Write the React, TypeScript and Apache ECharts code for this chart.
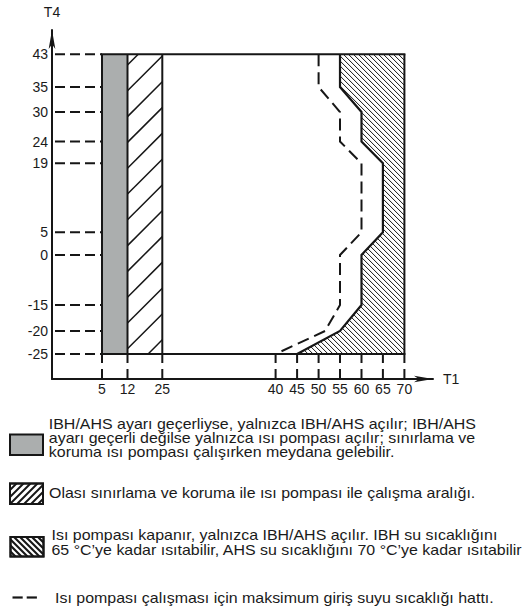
import React, { useEffect, useRef } from "react";
import * as echarts from "echarts";

// ---------------- data ----------------
const T1_TICKS = [5, 12, 25, 40, 45, 50, 55, 60, 65, 70];
const T4_TICKS = [43, 35, 30, 24, 19, 5, 0, -15, -20, -25];
const IBH_BAND_T1 = [5, 12];
const LIMITED_BAND_T1 = [12, 25];
const T1_RANGE = [5, 70];
const T4_RANGE = [-25, 43];
const BOUNDARY_T4 = [43, 35, 30, 24, 19, 5, 0, -15, -20, -25];
const HP_OFF_T1 = [55, 55, 60, 60, 65, 65, 60, 60, 55, 45];
const MAX_INLET_T1 = [50, 50, 55, 55, 60, 60, 55, 55, 51.5, 40];
const AXIS_NAMES = ["T1", "T4"];
const LEGEND_TEXTS = [
  [
    "IBH/AHS ayarı geçerliyse, yalnızca IBH/AHS açılır; IBH/AHS",
    "ayarı geçerli değilse yalnızca ısı pompası açılır; sınırlama ve",
    "koruma ısı pompası çalışırken meydana gelebilir.",
  ],
  ["Olası sınırlama ve koruma ile ısı pompası ile çalışma aralığı."],
  [
    "Isı pompası kapanır, yalnızca IBH/AHS açılır. IBH su sıcaklığını",
    "65 °C’ye kadar ısıtabilir, AHS su sıcaklığını 70 °C’ye kadar ısıtabilir",
  ],
  ["Isı pompası çalışması için maksimum giriş suyu sıcaklığı hattı."],
];

// ---------------- layout (schematic, non-linear axes) ----------------
const T1_TICK_OFFSETS = [50, 75.5, 110.3, 223.6, 245.1, 266.6, 288, 309.5, 330.9, 352.4];
const T4_TICK_OFFSETS = [324.7, 292, 267, 237.5, 215.7, 146.7, 124, 74, 48, 25];
const FONT = '"Liberation Sans", Arial, Helvetica, sans-serif';
const INK = "#161616";
const GRAY = "#abaeae";
const LEGEND_SCALE_X = 1.14;

type Pt = [number, number];

function interp(v: number, keys: number[], vals: number[]): number {
  const pairs = keys.map((k, i) => [k, vals[i]]).sort((a, b) => a[0] - b[0]);
  for (let i = 0; i < pairs.length - 1; i++) {
    const [k0, v0] = pairs[i];
    const [k1, v1] = pairs[i + 1];
    if (v >= k0 && v <= k1) return v0 + ((v - k0) / (k1 - k0)) * (v1 - v0);
  }
  return v < pairs[0][0] ? pairs[0][1] : pairs[pairs.length - 1][1];
}
const t1Pos = (t: number) => interp(t, T1_TICKS, T1_TICK_OFFSETS);
const t4Pos = (t: number) => interp(t, T4_TICKS, T4_TICK_OFFSETS);

function labelFor(v: number, offs: number[], labels: number[]): string {
  let best = 0;
  offs.forEach((o, i) => {
    if (Math.abs(o - v) < Math.abs(offs[best] - v)) best = i;
  });
  return String(labels[best]);
}

// hatch lines clipped to a polygon; dir 1 => "/", dir -1 => "\"
function hatch(poly: Pt[], dir: number, spacing: number, phase: number): [Pt, Pt][] {
  const f = (p: Pt) => (dir === 1 ? p[0] + p[1] : p[1] - p[0]);
  const vals = poly.map(f);
  const min = Math.min(...vals);
  const max = Math.max(...vals);
  const segs: [Pt, Pt][] = [];
  let c = phase + Math.ceil((min - phase) / spacing) * spacing;
  for (; c <= max; c += spacing) {
    const xs: number[] = [];
    for (let i = 0; i < poly.length; i++) {
      const a = poly[i];
      const b = poly[(i + 1) % poly.length];
      const fa = f(a) - c;
      const fb = f(b) - c;
      if (fa > 0 !== fb > 0) {
        const t = fa / (fa - fb);
        xs.push(a[0] + t * (b[0] - a[0]));
      }
    }
    xs.sort((p, q) => p - q);
    for (let k = 0; k + 1 < xs.length; k += 2) {
      const x1 = xs[k];
      const x2 = xs[k + 1];
      const y1 = dir === 1 ? c - x1 : c + x1;
      const y2 = dir === 1 ? c - x2 : c + x2;
      segs.push([
        [x1, y1],
        [x2, y2],
      ]);
    }
  }
  return segs;
}

function hatchLines(segs: [Pt, Pt][], width: number, color: string) {
  return segs.map((s) => ({
    type: "line",
    shape: { x1: s[0][0], y1: s[0][1], x2: s[1][0], y2: s[1][1] },
    style: { stroke: color, lineWidth: width },
  }));
}

function renderDiagram(params: any, api: any) {
  const P = (t1: number, t4: number): Pt => api.coord([t1Pos(t1), t4Pos(t4)]);
  const origin: Pt = api.coord([0, 0]);
  const children: any[] = [];
  const top = T4_RANGE[1];
  const bottom = T4_RANGE[0];

  // guide dashes from the axes
  T4_TICKS.forEach((t4) => {
    const p = P(T1_RANGE[0], t4);
    children.push({
      type: "line",
      shape: { x1: origin[0] + 3, y1: p[1], x2: p[0], y2: p[1] },
      style: { stroke: INK, lineWidth: 2, lineDash: [10, 5] },
    });
  });
  T1_TICKS.forEach((t1) => {
    const p = P(t1, bottom);
    children.push({
      type: "line",
      shape: { x1: p[0], y1: p[1], x2: p[0], y2: origin[1] },
      style: { stroke: INK, lineWidth: 2, lineDash: [9, 6] },
    });
  });

  // IBH/AHS only band
  const g0 = P(IBH_BAND_T1[0], top);
  const g1 = P(IBH_BAND_T1[1], bottom);
  children.push({
    type: "rect",
    shape: { x: g0[0], y: g0[1], width: g1[0] - g0[0], height: g1[1] - g0[1] },
    style: { fill: GRAY },
  });

  // limited operation band
  const h0 = P(LIMITED_BAND_T1[0], top);
  const h1 = P(LIMITED_BAND_T1[1], bottom);
  const band: Pt[] = [
    [h0[0], h0[1]],
    [h1[0], h0[1]],
    [h1[0], h1[1]],
    [h0[0], h1[1]],
  ];
  children.push(...hatchLines(hatch(band, 1, 25.8, h0[0] + h0[1] + 10.7), 1.5, INK));

  // heat pump off region
  const offPoly: Pt[] = BOUNDARY_T4.map((t4, i) => P(HP_OFF_T1[i], t4));
  offPoly.push(P(T1_RANGE[1], bottom));
  offPoly.push(P(T1_RANGE[1], top));
  const tr = P(T1_RANGE[1], top);
  children.push(...hatchLines(hatch(offPoly, -1, 5, tr[1] - tr[0] + 1), 1, INK));

  // frame lines
  const vline = (t1: number) => {
    const a = P(t1, top);
    const b = P(t1, bottom);
    return {
      type: "line",
      shape: { x1: a[0], y1: a[1], x2: b[0], y2: b[1] },
      style: { stroke: INK, lineWidth: 2 },
    };
  };
  children.push(vline(IBH_BAND_T1[0]), vline(IBH_BAND_T1[1]), vline(LIMITED_BAND_T1[1]), vline(T1_RANGE[1]));
  [top, bottom].forEach((t4) => {
    const a = P(T1_RANGE[0], t4);
    const b = P(T1_RANGE[1], t4);
    children.push({
      type: "line",
      shape: { x1: a[0] - 1, y1: a[1], x2: b[0] + 1, y2: b[1] },
      style: { stroke: INK, lineWidth: 2 },
    });
  });

  // boundary lines
  children.push({
    type: "polyline",
    shape: { points: BOUNDARY_T4.map((t4, i) => P(HP_OFF_T1[i], t4)) },
    style: { stroke: INK, lineWidth: 2.2, fill: "none" },
  });
  children.push({
    type: "polyline",
    shape: { points: BOUNDARY_T4.map((t4, i) => P(MAX_INLET_T1[i], t4)) },
    style: { stroke: INK, lineWidth: 2, fill: "none", lineDash: [12, 6] },
  });

  return { type: "group", children };
}

function buildLegend() {
  const els: any[] = [];
  const textStyle = (text: string) => ({
    text,
    fontSize: 14,
    fontFamily: FONT,
    fill: "#1a1a1a",
    align: "left",
    verticalAlign: "middle",
  });
  const addText = (x: number, ys: number[], lines: string[]) => {
    lines.forEach((line, i) => {
      els.push({ type: "text", x, y: ys[i], scaleX: LEGEND_SCALE_X, style: textStyle(line) });
    });
  };
  const box = (x: number, y: number, w: number, h: number, fill: string) => ({
    type: "rect",
    shape: { x, y, width: w, height: h },
    style: { fill, stroke: INK, lineWidth: 2 },
  });
  const rectPoly = (x: number, y: number, w: number, h: number): Pt[] => [
    [x, y],
    [x + w, y],
    [x + w, y + h],
    [x, y + h],
  ];

  // 1: gray
  els.push(box(10, 434.5, 33, 20.5, GRAY));
  addText(48.8, [424, 438, 451.8], LEGEND_TEXTS[0]);
  // 2: "/" hatch
  els.push(box(10, 483.5, 33, 20.5, "#fff"));
  els.push(...hatchLines(hatch(rectPoly(10, 483.5, 33, 20.5), 1, 7, 3), 2, INK));
  els.push(box(10, 483.5, 33, 20.5, "none"));
  addText(49, [492.5], LEGEND_TEXTS[1]);
  // 3: "\" hatch
  els.push(box(10.5, 537, 33, 19.5, "#fff"));
  els.push(...hatchLines(hatch(rectPoly(10.5, 537, 33, 19.5), -1, 6, 1), 2.2, INK));
  els.push(box(10.5, 537, 33, 19.5, "none"));
  addText(51.5, [535, 549.5], LEGEND_TEXTS[2]);
  // 4: dashed line
  els.push({ type: "line", shape: { x1: 12.5, y1: 597.5, x2: 22.7, y2: 597.5 }, style: { stroke: INK, lineWidth: 2.2 } });
  els.push({ type: "line", shape: { x1: 26.7, y1: 597.5, x2: 36.9, y2: 597.5 }, style: { stroke: INK, lineWidth: 2.2 } });
  addText(55, [597.5], LEGEND_TEXTS[3]);
  return els;
}

export default function App() {
  const ref = useRef<HTMLDivElement>(null);
  useEffect(() => {
    if (!ref.current) return;
    const chart = echarts.init(ref.current, null, { renderer: "svg" });
    const labelStyle = { color: "#1a1a1a", fontSize: 14, fontFamily: FONT };
    chart.setOption({
      animation: false,
      backgroundColor: "#ffffff",
      grid: { left: 52, top: 30, width: 381, height: 349, containLabel: false, outerBoundsMode: "none" },
      xAxis: {
        type: "value",
        min: 0,
        max: 381,
        name: AXIS_NAMES[0],
        nameLocation: "end",
        nameGap: 10,
        nameTextStyle: { ...labelStyle, verticalAlign: "middle", padding: [0, 0, 3, 0] },
        axisLine: {
          show: true,
          onZero: false,
          symbol: ["none", "arrow"],
          symbolSize: [5, 19],
          lineStyle: { color: INK, width: 2 },
        },
        axisTick: { show: false },
        splitLine: { show: false },
        axisLabel: {
          ...labelStyle,
          margin: 3,
          customValues: T1_TICK_OFFSETS,
          formatter: (v: number) => labelFor(v, T1_TICK_OFFSETS, T1_TICKS),
        },
      },
      yAxis: {
        type: "value",
        min: 0,
        max: 349,
        name: AXIS_NAMES[1],
        nameLocation: "end",
        nameGap: 11,
        nameTextStyle: { ...labelStyle, align: "center" },
        axisLine: {
          show: true,
          onZero: false,
          symbol: ["none", "arrow"],
          symbolSize: [5, 19],
          lineStyle: { color: INK, width: 2 },
        },
        axisTick: { show: false },
        splitLine: { show: false },
        axisLabel: {
          ...labelStyle,
          margin: 4,
          customValues: T4_TICK_OFFSETS,
          formatter: (v: number) => labelFor(v, T4_TICK_OFFSETS, T4_TICKS),
        },
      },
      series: [
        {
          type: "custom",
          coordinateSystem: "cartesian2d",
          silent: true,
          clip: false,
          data: [[0, 0]],
          renderItem: renderDiagram,
          z: 3,
        },
      ],
      graphic: [{ type: "group", silent: true, children: buildLegend() }],
    });
    return () => chart.dispose();
  }, []);
  return (
    <div
      ref={ref}
      style={{ position: "fixed", left: 0, top: 0, width: 526, height: 609, background: "#fff" }}
    />
  );
}
